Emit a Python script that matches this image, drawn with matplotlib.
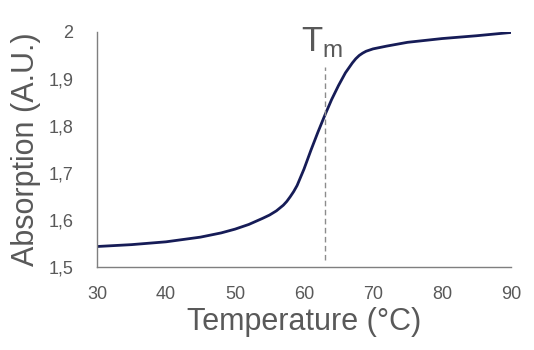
import matplotlib
matplotlib.use("Agg")
import matplotlib.pyplot as plt
from matplotlib.ticker import FuncFormatter

# melting curve
temperature = [30, 35, 40, 45, 48, 50, 52, 54, 55, 56, 57, 57.5, 58, 58.5, 59,
               60, 61, 62, 63, 64, 65, 66, 67, 67.5, 68, 68.5, 69, 70, 72, 75,
               80, 85, 90]
absorption = [1.543, 1.547, 1.553, 1.563, 1.572, 1.580, 1.590, 1.603, 1.610,
              1.619, 1.631, 1.639, 1.649, 1.660, 1.673, 1.708, 1.748, 1.786,
              1.822, 1.856, 1.886, 1.913, 1.934, 1.943, 1.950, 1.955, 1.959,
              1.964, 1.970, 1.978, 1.986, 1.992, 1.999]
tm = 63
x_ticks = [30, 40, 50, 60, 70, 80, 90]
y_ticks = [1.5, 1.6, 1.7, 1.8, 1.9, 2.0]

plt.rcParams['font.family'] = ['Liberation Sans', 'DejaVu Sans']
grey = '#595959'

fig = plt.figure(figsize=(5.34, 3.5), dpi=100)
ax = fig.add_axes([0.1816, 0.238, 0.7754, 0.6706])

ax.plot(temperature, absorption, color='#161c57', lw=2.0,
        solid_capstyle='round', solid_joinstyle='round')
ax.plot([tm, tm], [1.514, 1.926], color='#8c8c8c', lw=1.0, ls=(0, (4, 2.5)))
ax.text(tm - 0.4, 1.942, r'T$_{\mathregular{m}}$', fontsize=25, color=grey,
        ha='center', va='bottom')

ax.set_xlim(30, 90)
ax.set_ylim(1.5, 2.0)
ax.set_xticks(x_ticks)
ax.set_yticks(y_ticks)
ax.yaxis.set_major_formatter(FuncFormatter(lambda v, p: ('%g' % v).replace('.', ',')))
ax.tick_params(length=0, labelsize=13, labelcolor=grey)
ax.tick_params(axis='y', pad=17)
ax.tick_params(axis='x', pad=14)

for s in ['top', 'right']:
    ax.spines[s].set_visible(False)
for s in ['left', 'bottom']:
    ax.spines[s].set_color('#7f7f7f')
    ax.spines[s].set_linewidth(1.0)

ax.set_xlabel('Temperature (°C)', fontsize=22, color=grey, labelpad=3)
ax.set_ylabel('Absorption (A.U.)', fontsize=22, color=grey, labelpad=5)

fig.savefig('out.png', dpi=100)
